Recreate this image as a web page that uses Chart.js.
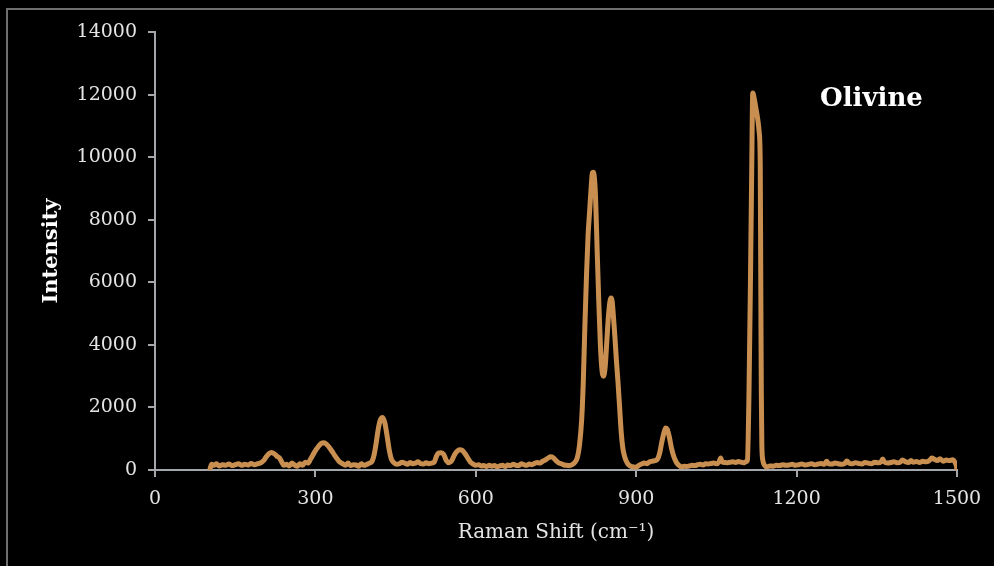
<!DOCTYPE html>
<html>
<head>
<meta charset="utf-8">
<script src="https://cdn.jsdelivr.net/npm/chart.js@4.4.1/dist/chart.umd.min.js"></script>
<style>
  html, body { margin: 0; padding: 0; background: #000; overflow: hidden; }
  #frame { position: absolute; left: 6px; top: 8px; width: 1000px; height: 600px; border: 2px solid #6f6f6f; box-sizing: border-box; }
  #wrap { position: absolute; left: 0; top: 0; width: 994px; height: 566px; }
</style>
</head>
<body>
<div id="frame"></div>
<div id="wrap"><canvas id="myChart" width="994" height="566"></canvas></div>
<script>
// Raman spectrum of olivine
const shift = [
  103, 106, 110, 115, 120, 126, 132, 138, 144, 150, 156, 162, 168, 174, 180, 186, 192, 198,
  203, 208, 213, 218, 223, 228, 233, 237, 241, 246, 251, 256, 261, 266, 271, 276, 281, 286,
  291, 296, 301, 306, 311, 316, 321, 326, 331, 336, 341, 346, 351, 356, 361, 366, 371, 376,
  381, 386, 391, 396, 401, 406, 410, 414, 418, 422, 426, 430, 434, 438, 442, 447, 452, 457,
  462, 467, 472, 477, 482, 487, 492, 497, 502, 507, 512, 517, 522, 526, 530, 535, 540, 545,
  550, 555, 560, 565, 570, 575, 580, 585, 590, 595, 600, 605, 610, 615, 620, 625, 630, 635,
  640, 645, 650, 655, 660, 665, 670, 675, 680, 685, 690, 695, 700, 705, 710, 715, 720, 725,
  730, 735, 740, 745, 750, 755, 760, 765, 770, 775, 780, 785, 790, 794, 798, 801, 804, 807,
  810, 813, 816, 818, 820, 822, 824, 827, 830, 833, 836, 839, 842, 845, 848, 851, 853, 855,
  857, 860, 863, 866, 869, 872, 875, 878, 881, 885, 890, 895, 900, 905, 910, 915, 920, 925,
  930, 935, 940, 944, 948, 952, 955, 958, 962, 966, 970, 975, 980, 985, 990, 995, 1000, 1005,
  1010, 1015, 1020, 1025, 1030, 1035, 1040, 1045, 1050, 1055, 1058, 1061, 1066, 1071, 1076, 1081,
  1086, 1091, 1096, 1101, 1105, 1108, 1111, 1114, 1116, 1118, 1121, 1124, 1127, 1130, 1132, 1133,
  1134, 1135, 1137, 1140, 1145, 1150, 1156, 1162, 1168, 1174, 1180, 1186, 1192, 1198, 1204, 1210,
  1216, 1222, 1228, 1234, 1240, 1246, 1252, 1256, 1260, 1266, 1272, 1278, 1284, 1290, 1294, 1298,
  1304, 1310, 1316, 1322, 1328, 1334, 1340, 1346, 1352, 1358, 1361, 1364, 1370, 1376, 1382, 1388,
  1394, 1398, 1404, 1410, 1414, 1418, 1424, 1430, 1436, 1442, 1448, 1453, 1458, 1463, 1468, 1474,
  1480, 1486, 1492, 1496, 1499, 1500
];
const intensity = [
  40, 180, 150, 200, 130, 170, 150, 190, 140, 170, 200, 150, 180, 160, 210, 170, 200, 230,
  300, 420, 520, 560, 520, 440, 380, 260, 150, 180, 130, 220, 160, 120, 200, 150, 250, 220,
  350, 500, 640, 760, 850, 870, 820, 720, 600, 470, 350, 250, 200, 150, 220, 140, 170, 160,
  120, 200, 150, 180, 220, 280, 500, 900, 1350, 1620, 1680, 1500, 1100, 650, 350, 230, 180, 200,
  250, 220, 180, 240, 200, 220, 260, 200, 190, 230, 200, 220, 250, 420, 540, 550, 500, 300,
  230, 300, 480, 600, 650, 620, 520, 380, 250, 190, 150, 170, 130, 140, 110, 150, 120, 140,
  100, 130, 150, 110, 160, 140, 180, 150, 140, 200, 170, 150, 190, 170, 210, 240, 220, 280,
  320, 380, 420, 390, 300, 230, 200, 160, 150, 140, 170, 240, 400, 800, 1600, 2800, 4600, 6200,
  7500, 8300, 9100, 9500, 9520, 9300, 8700, 7000, 5400, 4000, 3200, 3000, 3300, 4100, 4900, 5400, 5500, 5400,
  5000, 4300, 3500, 2800, 2000, 1200, 700, 450, 300, 180, 120, 100, 90, 150, 190, 220, 200, 260,
  280, 300, 350, 550, 900, 1200, 1340, 1300, 1050, 700, 450, 250, 150, 100, 120, 110, 130, 150,
  140, 170, 180, 160, 200, 190, 210, 220, 200, 260, 380, 250, 240, 230, 250, 260,
  240, 270, 250, 230, 260, 300, 2500, 6500, 9500, 12050, 11850, 11550, 11250, 10800, 9800, 6000,
  2500, 800, 300, 150, 100, 130, 120, 150, 140, 170, 150, 160, 180, 150, 170, 190,
  160, 180, 200, 170, 190, 210, 180, 280, 200, 190, 220, 200, 180, 210, 290, 220,
  200, 230, 210, 190, 240, 220, 200, 250, 230, 260, 350, 260, 220, 240, 260, 230,
  250, 320, 260, 240, 300, 250, 270, 240, 280, 260, 300, 380, 340, 300, 360, 280,
  320, 300, 330, 250, 120, 0
];
const xTicks = [0, 300, 600, 900, 1200, 1500];
const yTicks = [0, 2000, 4000, 6000, 8000, 10000, 12000, 14000];
const mineral = 'Olivine';

const axisGray = '#a3a6ab';
const textColor = '#e4e4e4';
const serif = "'DejaVu Serif', 'Liberation Serif', serif";

const points = shift.map((x, i) => ({ x: x, y: intensity[i] }));

const labelPlugin = {
  id: 'mineralLabel',
  afterDatasetsDraw(chart) {
    const { ctx, scales } = chart;
    ctx.save();
    ctx.fillStyle = '#ffffff';
    ctx.font = 'bold 26px ' + serif;
    ctx.textAlign = 'center';
    ctx.textBaseline = 'middle';
    ctx.fillText(mineral, scales.x.getPixelForValue(1340), scales.y.getPixelForValue(11850));
    ctx.restore();
  }
};

const ctx = document.getElementById('myChart').getContext('2d');
const myChart = new Chart(ctx, {
  type: 'scatter',
  data: {
    datasets: [{
      label: mineral,
      data: points,
      showLine: true,
      borderColor: '#c98f50',
      borderWidth: 5,
      pointRadius: 0,
      cubicInterpolationMode: 'monotone',
      borderJoinStyle: 'round',
      borderCapStyle: 'round'
    }]
  },
  options: {
    responsive: false,
    animation: false,
    devicePixelRatio: 1,
    layout: { padding: { top: 32, right: 37, left: 0, bottom: 0 } },
    plugins: {
      legend: { display: false },
      tooltip: { enabled: false }
    },
    scales: {
      x: {
        type: 'linear',
        min: 0,
        max: 1500,
        afterBuildTicks: s => { s.ticks = xTicks.map(v => ({ value: v })); },
        afterFit: s => { s.height = 96; },
        ticks: {
          color: textColor, font: { family: serif, size: 19 }, padding: 11,
          maxRotation: 0, autoSkip: false, callback: v => String(v)
        },
        grid: { drawOnChartArea: false, drawTicks: true, tickLength: 7, color: axisGray, lineWidth: 2 },
        border: { display: true, color: axisGray, width: 2 },
        title: {
          display: true,
          text: 'Raman Shift (cm\u207B\u00B9)',
          color: textColor,
          font: { family: serif, size: 20 },
          padding: { top: 0, bottom: 21 }
        }
      },
      y: {
        type: 'linear',
        min: 0,
        max: 14000,
        afterBuildTicks: s => { s.ticks = yTicks.map(v => ({ value: v })); },
        afterFit: s => { s.width = 155; },
        ticks: { color: textColor, font: { family: serif, size: 19 }, padding: 11, autoSkip: false, callback: v => String(v) },
        grid: { drawOnChartArea: false, drawTicks: true, tickLength: 7, color: axisGray, lineWidth: 2 },
        border: { display: true, color: axisGray, width: 2 },
        title: {
          display: true,
          text: 'Intensity',
          color: '#ffffff',
          font: { family: serif, size: 21, weight: 'bold' },
          padding: { top: 39, bottom: 0 }
        }
      }
    }
  },
  plugins: [labelPlugin]
});
</script>
</body>
</html>
